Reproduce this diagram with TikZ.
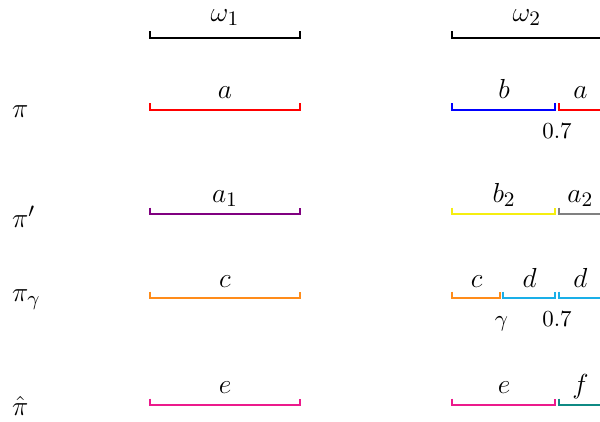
\documentclass[tikz,border=0pt]{standalone}
\usepackage{tikz}
\definecolor{segred}{HTML}{FF0000}
\definecolor{segblue}{HTML}{0000FF}
\definecolor{segpurple}{HTML}{800080}
\definecolor{segyellow}{HTML}{F5EE10}
\definecolor{seggray}{HTML}{808080}
\definecolor{segorange}{HTML}{FF8C1A}
\definecolor{segcyan}{HTML}{1AAFE8}
\definecolor{segpink}{HTML}{EC1A8C}
\definecolor{segteal}{HTML}{0F8A84}

\begin{document}
\begin{tikzpicture}[
    seg/.style={line width=1pt, line join=miter},
    lbl/.style={anchor=base, inner sep=0pt, font=\fontsize{13pt}{15pt}\selectfont},
    side/.style={anchor=base west, inner sep=0pt, font=\fontsize{13pt}{15pt}\selectfont},
    wt/.style={anchor=base, inner sep=0pt, font=\fontsize{10pt}{12pt}\selectfont}
  ]
  \clip (0, 0) rectangle (9.2, 6.457);

  % Worlds
  \draw[seg, black] (2.30, 5.974) -- (2.30, 5.874) -- (4.60, 5.874) -- (4.60, 5.974);
  \draw[seg, black] (6.93, 5.974) -- (6.93, 5.874) -- (9.23, 5.874) -- (9.23, 5.974);
  \node[lbl] (w1) at (3.45, 6.124) {$\omega_1$};
  \node[lbl] (w2) at (8.08, 6.124) {$\omega_2$};

  % Row pi
  \node[side] (pi) at (0.18, 4.65) {$\pi$};
  \draw[seg, segred] (2.30, 4.870) -- (2.30, 4.770) -- (4.60, 4.770) -- (4.60, 4.870);
  \draw[seg, segblue] (6.93, 4.870) -- (6.93, 4.770) -- (8.515, 4.770) -- (8.515, 4.870);
  \draw[seg, segred] (8.567, 4.870) -- (8.567, 4.770) -- (9.23, 4.770) -- (9.23, 4.870);
  \node[lbl] (pia) at (3.45, 4.954) {$a$};
  \node[lbl] (pib) at (7.73, 4.954) {$b$};
  \node[lbl] (pia2) at (8.90, 4.954) {$a$};
  \node[wt] (pis) at (8.54, 4.34) {0.7};

  % Row pi prime
  \node[side] (pip) at (0.18, 2.975) {$\pi'$};
  \draw[seg, segpurple] (2.30, 3.275) -- (2.30, 3.175) -- (4.60, 3.175) -- (4.60, 3.275);
  \draw[seg, segyellow] (6.93, 3.275) -- (6.93, 3.175) -- (8.515, 3.175) -- (8.515, 3.275);
  \draw[seg, seggray] (8.567, 3.275) -- (8.567, 3.175) -- (9.23, 3.175) -- (9.23, 3.275);
  \node[lbl] (pipa) at (3.45, 3.359) {$a_1$};
  \node[lbl] (pipb) at (7.73, 3.359) {$b_2$};
  \node[lbl] (pipa2) at (8.90, 3.359) {$a_2$};

  % Row pi gamma
  \node[side] (pig) at (0.18, 1.84) {$\pi_\gamma$};
  \draw[seg, segorange] (2.30, 1.987) -- (2.30, 1.887) -- (4.60, 1.887) -- (4.60, 1.987);
  \draw[seg, segorange] (6.93, 1.987) -- (6.93, 1.887) -- (7.665, 1.887) -- (7.665, 1.987);
  \draw[seg, segcyan] (7.717, 1.987) -- (7.717, 1.887) -- (8.515, 1.887) -- (8.515, 1.987);
  \draw[seg, segcyan] (8.567, 1.987) -- (8.567, 1.887) -- (9.23, 1.887) -- (9.23, 1.987);
  \node[lbl] (pigc) at (3.45, 2.055) {$c$};
  \node[lbl] (pigc2) at (7.31, 2.055) {$c$};
  \node[lbl] (pigd) at (8.12, 2.055) {$d$};
  \node[lbl] (pigd2) at (8.90, 2.055) {$d$};
  \node[wt] (pigs) at (7.69, 1.45) {$\gamma$};
  \node[wt] (pigs2) at (8.54, 1.45) {0.7};

  % Row pi hat
  \node[side] (pih) at (0.18, 0.092) {$\hat{\pi}$};
  \draw[seg, segpink] (2.30, 0.345) -- (2.30, 0.245) -- (4.60, 0.245) -- (4.60, 0.345);
  \draw[seg, segpink] (6.93, 0.345) -- (6.93, 0.245) -- (8.515, 0.245) -- (8.515, 0.345);
  \draw[seg, segteal] (8.567, 0.345) -- (8.567, 0.245) -- (9.23, 0.245) -- (9.23, 0.345);
  \node[lbl] (pihe) at (3.45, 0.429) {$e$};
  \node[lbl] (pihe2) at (7.73, 0.429) {$e$};
  \node[lbl] (pihf) at (8.90, 0.429) {$f$};
\end{tikzpicture}
\end{document}
